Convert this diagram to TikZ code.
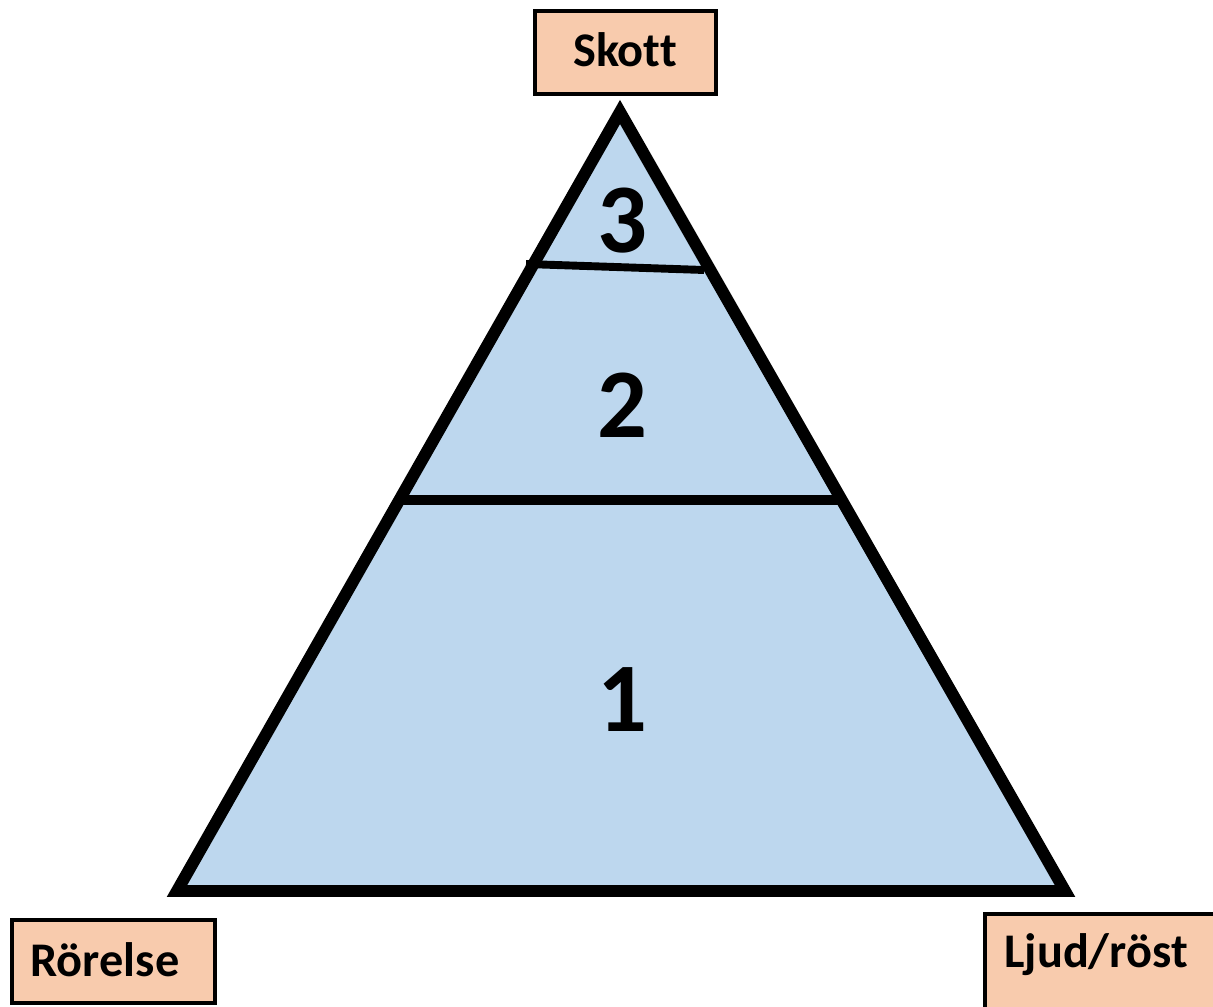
\documentclass[tikz,border=0pt]{standalone}
\usepackage{xcolor}
\usepackage{fontspec}
\setmainfont[Ligatures=NoCommon]{Carlito}
\usepackage{tikz}

\definecolor{peach}{HTML}{F8CBAD}
\definecolor{paleblue}{HTML}{BDD7EE}

\begin{document}
\begin{tikzpicture}[
    label/.style={draw=none, font=\bfseries\fontsize{27.5}{32}\selectfont},
    level/.style={draw=none, font=\bfseries\fontsize{56}{64}\selectfont},
    box/.style={draw=black, fill=peach, line width=2.3pt}]
             \useasboundingbox (0, 0) rectangle (24.26, 20.12);

             % boxes
             \draw[box] (10.70, 18.24) rectangle (14.32, 19.90);
             \draw[box] (0.24, 0.06) rectangle (4.30, 1.72);
             \draw[box] (19.70, -0.30) rectangle (24.60, 1.84);
             \node[label] (skott) at (12.50, 19.12) {Skott};
             \node[label] (rorelse) at (2.10, 0.92) {Rörelse};
             \node[label] (ljud) at (21.92, 1.02) {Ljud/röst};

             % pyramid
             \draw[fill=paleblue, line width=6.8pt, line join=miter]
                (12.40, 17.88) -- (3.54, 2.30) -- (21.30, 2.30) -- cycle;
             \draw[line width=5.7pt] (8.00, 10.12) -- (16.80, 10.12);
             \draw[line width=4.5pt] (10.52, 14.84) -- (14.08, 14.72);

             \node[level] (three) at (12.44, 15.70) {3};
             \node[level] (two) at (12.44, 12.02) {2};
             \node[level] (one) at (12.44, 6.12) {1};
\end{tikzpicture}
\end{document}
